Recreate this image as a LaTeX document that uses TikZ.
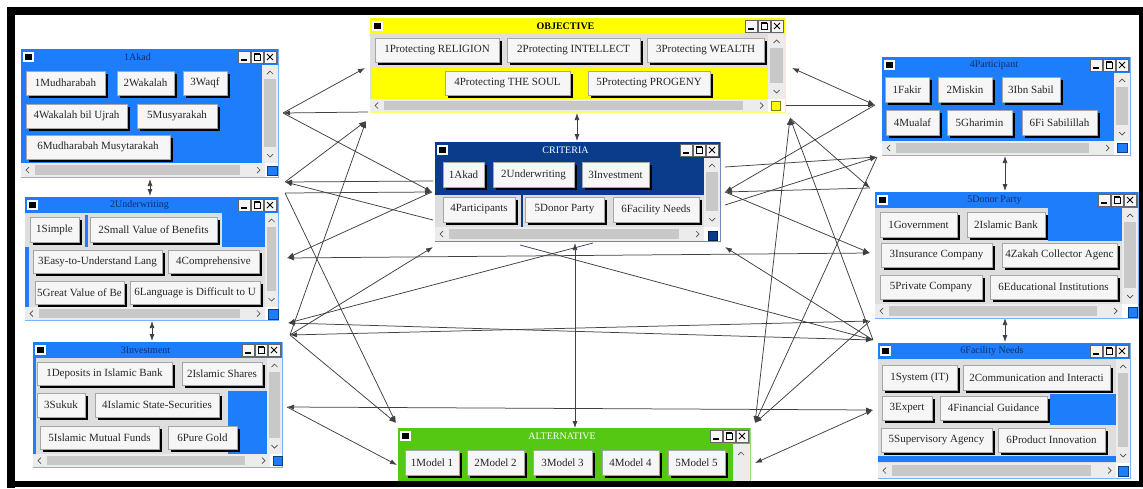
\documentclass[tikz,border=0pt]{standalone}
\usepackage{fontspec}
\setmainfont{Liberation Serif}
\usetikzlibrary{arrows.meta}
\definecolor{wblue}{RGB}{30,125,250}
\definecolor{navy}{RGB}{15,45,110}
\definecolor{cblue}{RGB}{10,60,140}
\definecolor{wgreen}{RGB}{85,200,20}
\definecolor{wyellow}{RGB}{255,255,0}
\definecolor{trk}{RGB}{236,236,236}
\definecolor{thumbc}{RGB}{200,200,200}
\definecolor{panel}{RGB}{222,222,222}
\definecolor{btnface}{RGB}{246,246,246}
\tikzset{
 link/.style={draw=black!75, line width=0.75pt},
 tip/.style={-{Latex[length=7pt,width=5pt]}},
 tips/.style={{Latex[length=7pt,width=5pt]}-{Latex[length=7pt,width=5pt]}},
 btnbox/.style={fill=btnface, draw=black!35, line width=0.6pt, inner sep=0pt, outer sep=0pt, anchor=north west, font=\fontsize{11}{12}\selectfont, text=black!85},
 ttl/.style={inner sep=0pt, font=\fontsize{10}{11}\selectfont},
 chev/.style={draw=black!70, line width=0.7pt},
}
\newcommand\btn[6]{%
 \fill[black] ({#2+3},{#3+3}) rectangle (#4,#5);
 \node[btnbox, minimum width={#4-#2-3}, minimum height={#5-#3-3}] (#1) at (#2,#3) {#6};
}
\newcommand\winframe[8]{%
 \fill[white] (#2,#3) rectangle (#4,#5);
 \draw[#6!60!white, line width=0.8pt] (#2,#3) rectangle (#4,#5);
 \fill[#6] (#2,#3) rectangle (#4,{#3+16});
 \node[ttl, text=#7] (#1) at ({(#2+#4)/2-12},{#3+8}) {#8};
 \fill[white] ({#2+2},{#3+3}) rectangle ({#2+13},{#3+13});
 \fill[black] ({#2+4},{#3+5}) rectangle ({#2+11},{#3+11});
 \foreach \k in {0,1,2} {\fill[btnface] ({#4-40+\k*13},{#3+2}) rectangle ({#4-28+\k*13},{#3+14});
   \draw[black!60, line width=0.4pt] ({#4-40+\k*13},{#3+2}) rectangle ({#4-28+\k*13},{#3+14});}
 \draw[line width=1.3pt] ({#4-37},{#3+11}) -- ({#4-31},{#3+11});
 \draw[line width=0.7pt] ({#4-24},{#3+5}) rectangle ({#4-18},{#3+11});
 \draw[line width=1.1pt] ({#4-24},{#3+5}) -- ({#4-18},{#3+5});
 \draw[line width=1pt] ({#4-11},{#3+5}) -- ({#4-5},{#3+11}) ({#4-11},{#3+11}) -- ({#4-5},{#3+5});
}
\newcommand\vscroll[4]{%
 \fill[trk] (#1,#2) rectangle (#3,#4);
 \fill[thumbc] ({#1+2},{#2+14}) rectangle ({#3-2},{#4-16});
 \draw[chev] ({(#1+#3)/2-3},{#2+9}) -- ({(#1+#3)/2},{#2+6}) -- ({(#1+#3)/2+3},{#2+9});
 \draw[chev] ({(#1+#3)/2-3},{#4-9}) -- ({(#1+#3)/2},{#4-6}) -- ({(#1+#3)/2+3},{#4-9});
}
\newcommand\hscroll[4]{%
 \fill[trk] (#1,#2) rectangle (#3,#4);
 \fill[thumbc] ({#1+14},{#2+2}) rectangle ({#3-25},{#4-2});
 \draw[chev] ({#1+8},{(#2+#4)/2-3}) -- ({#1+5},{(#2+#4)/2}) -- ({#1+8},{(#2+#4)/2+3});
 \draw[chev] ({#3-8},{(#2+#4)/2-3}) -- ({#3-5},{(#2+#4)/2}) -- ({#3-8},{(#2+#4)/2+3});
}
\newcommand\corner[5]{%
 \fill[#5] (#1,#2) rectangle (#3,#4);
 \draw[#5!50!black, line width=0.4pt] (#1,#2) rectangle (#3,#4);
}
\begin{document}
\begin{tikzpicture}[x=1pt,y=-1pt]
\useasboundingbox (0,0) rectangle (1143,488);
\fill[white] (0,0) rectangle (1143,488);

% ---------- anchors ----------
\coordinate (aR) at (283,113);
\coordinate (auA) at (285,182);
\coordinate (auB) at (285,193);
\coordinate (uR) at (287,258);
\coordinate (uiA) at (288,323);
\coordinate (uiB) at (290,335);
\coordinate (iR) at (287,407);
\coordinate (oL1) at (365,68);
\coordinate (oL2) at (368,112);
\coordinate (oL3) at (366,121);
\coordinate (oR1) at (792,68);
\coordinate (oR2) at (786,105);
\coordinate (oR3) at (790,118);
\coordinate (cL0) at (433,181);
\coordinate (cL1) at (432,192);
\coordinate (cL2) at (433,220);
\coordinate (cL3) at (433,247);
\coordinate (cR1) at (725,167);
\coordinate (cR2) at (725,192);
\coordinate (cR3) at (725,205);
\coordinate (cR4) at (725,247);
\coordinate (cB1) at (520,245);
\coordinate (cB2) at (593,243);
\coordinate (tL1) at (396,423);
\coordinate (tL2) at (397,465);
\coordinate (tR1) at (755,423);
\coordinate (tR2) at (755,463);
\coordinate (pL1) at (875,105);
\coordinate (pL2) at (877,157);
\coordinate (dL1) at (870,188);
\coordinate (dL2) at (870,253);
\coordinate (fL1) at (870,321);
\coordinate (fL2) at (873,340);
\coordinate (fL3) at (873,410);
\coordinate (au1) at (150,179);
\coordinate (au2) at (150,196);
\coordinate (ui1) at (152,321);
\coordinate (ui2) at (152,341);
\coordinate (pd1) at (1005,156);
\coordinate (pd2) at (1005,191);
\coordinate (df1) at (1005,318);
\coordinate (df2) at (1005,342);
\coordinate (oc1) at (577,113);
\coordinate (oc2) at (577,141);
\coordinate (ct1) at (575,243);
\coordinate (ct2) at (575,428);

% ---------- connectors ----------
\draw[link,tip] (aR) -- (oL1);
\draw[link,tip] (oL2) -- (aR);
\draw[link,tip] (aR) -- (cL1);
\draw[link,tip] (auA) -- (oL3);
\draw[link,tip] (cL0) -- (auA);
\draw[link,tip] (auB) -- (cL1);
\draw[link,tip] (cL2) -- (auA);
\draw[link,tip] (auB) -- (tL1);
\draw[link,tip] (cL1) -- (uR);
\draw[link,tips] (uR) -- (dL2);
\draw[link,tip] (uiB) -- (oL3);
\draw[link,tip] (uiB) -- (cL3);
\draw[link,tips] (uiA) -- (fL2);
\draw[link,tips] (uiB) -- (fL1);
\draw[link,tip] (uiB) -- (tL1);
\draw[link,tip] (cB2) -- (uiA);
\draw[link,tips] (iR) -- (fL3);
\draw[link,tip] (iR) -- (tL2);
\draw[link,tips] (pL1) -- (oR1);
\draw[link,tip] (oR2) -- (pL1);
\draw[link,tip] (pL1) -- (cR2);
\draw[link,tip] (cR1) -- (pL2);
\draw[link,tip] (cR3) -- (pL2);
\draw[link,tip] (dL1) -- (cR2);
\draw[link,tip] (cR2) -- (dL2);
\draw[link,tip] (oR3) -- (dL1);
\draw[link,tip] (fL2) -- (oR3);
\draw[link,tip] (fL2) -- (cR4);
\draw[link,tip] (cB1) -- (fL2);
\draw[link,tips] (tR1) -- (oR3);
\draw[link,tip] (pL2) -- (tR1);
\draw[link,tip] (fL1) -- (tR1);
\draw[link,tips] (fL3) -- (tR2);
\draw[link,tips] (au1) -- (au2);
\draw[link,tips] (ui1) -- (ui2);
\draw[link,tips] (pd1) -- (pd2);
\draw[link,tips] (df1) -- (df2);
\draw[link,tips] (oc1) -- (oc2);
\draw[link,tips] (ct1) -- (ct2);

% ---------- 1Akad ----------
\winframe{wA}{21}{49}{278}{177}{wblue}{navy}{1Akad}
\fill[wblue] (21,65) rectangle (262,163);
\vscroll{262}{65}{278}{163}
\hscroll{21}{163}{265}{177}
\corner{267}{166}{277}{175}{wblue}
\btn{a1}{26}{71}{108}{98}{1Mudharabah}
\btn{a2}{117}{71}{177}{98}{2Wakalah}
\btn{a3}{183}{71}{230}{98}{3Waqf}
\btn{a4}{26}{104}{130}{131}{4Wakalah bil Ujrah}
\btn{a5}{137}{104}{220}{131}{5Musyarakah}
\btn{a6}{26}{135}{173}{162}{6Mudharabah Musytarakah}

% ---------- 2Underwriting ----------
\winframe{wU}{25}{197}{278}{320}{wblue}{navy}{2Underwriting}
\fill[panel] (25,213) rectangle (265,307);
\fill[wblue] (222,213) rectangle (265,247);
\fill[wblue] (25,247) rectangle (29,307);
\fill[wblue] (85,215) rectangle (88,247);
\vscroll{265}{213}{278}{307}
\hscroll{25}{307}{265}{320}
\corner{268}{309}{278}{319}{wblue}
\btn{u1}{30}{217}{82}{245}{1Simple}
\btn{u2}{90}{217}{220}{245}{2Small Value of Benefits}
\btn{u3}{33}{250}{165}{276}{3Easy-to-Understand Lang}
\btn{u4}{168}{250}{262}{276}{4Comprehensive}
\btn{u5}{35}{281}{127}{307}{5Great Value of Be}
\btn{u6}{130}{281}{263}{307}{6Language is Difficult to U}

% ---------- 3Investment ----------
\winframe{wI}{33}{342}{282}{467}{wblue}{navy}{3Investment}
\fill[panel] (33,358) rectangle (267,454);
\fill[wblue] (228,391) rectangle (267,454);
\fill[wblue] (33,358) rectangle (36,454);
\vscroll{267}{358}{282}{454}
\hscroll{33}{454}{270}{467}
\corner{273}{456}{282}{465}{wblue}
\btn{i1}{37}{362}{175}{388}{1Deposits in Islamic Bank}
\btn{i2}{182}{362}{265}{388}{2Islamic Shares}
\btn{i3}{37}{393}{88}{420}{3Sukuk}
\btn{i4}{95}{393}{222}{420}{4Islamic State-Securities}
\btn{i5}{40}{426}{162}{452}{5Islamic Mutual Funds}
\btn{i6}{168}{426}{240}{452}{6Pure Gold}

% ---------- OBJECTIVE ----------
\winframe{wO}{370}{18}{785}{112}{wyellow}{black}{\textbf{OBJECTIVE}}
\fill[panel] (370,34) rectangle (768,99);
\fill[wyellow] (372,67) rectangle (768,99);
\vscroll{768}{34}{785}{99}
\hscroll{370}{99}{768}{112}
\corner{771}{101}{780}{110}{wyellow}
\btn{o1}{375}{38}{502}{65}{1Protecting RELIGION}
\btn{o2}{507}{38}{643}{65}{2Protecting INTELLECT}
\btn{o3}{647}{38}{767}{65}{3Protecting WEALTH}
\btn{o4}{445}{71}{573}{98}{4Protecting THE SOUL}
\btn{o5}{588}{71}{713}{98}{5Protecting PROGENY}

% ---------- CRITERIA ----------
\winframe{wC}{435}{142}{720}{241}{cblue}{white}{CRITERIA}
\fill[panel] (435,158) rectangle (704,227);
\fill[cblue] (435,158) rectangle (704,195);
\fill[cblue] (521,195) rectangle (523,227);
\vscroll{704}{158}{720}{227}
\hscroll{435}{227}{704}{241}
\corner{708}{231}{717}{240}{cblue}
\btn{c1}{443}{162}{487}{190}{1Akad}
\btn{c2}{493}{162}{577}{190}{2Underwriting}
\btn{c3}{582}{162}{652}{190}{3Investment}
\btn{c4}{443}{197}{518}{225}{4Participants}
\btn{c5}{525}{197}{607}{225}{5Donor Party}
\btn{c6}{613}{197}{702}{225}{6Facility Needs}

% ---------- ALTERNATIVE ----------
\winframe{wT}{398}{428}{750}{484}{wgreen}{white}{ALTERNATIVE}
\fill[wgreen] (398,444) rectangle (733,484);
\fill[trk] (733,444) rectangle (750,484);
\draw[chev] (738,455) -- (741,452) -- (744,455);
\btn{t1}{405}{450}{462}{478}{1Model 1}
\btn{t2}{467}{450}{527}{478}{2Model 2}
\btn{t3}{533}{450}{595}{478}{3Model 3}
\btn{t4}{602}{450}{662}{478}{4Model 4}
\btn{t5}{668}{450}{728}{478}{5Model 5}

% ---------- 4Participant ----------
\winframe{wP}{882}{57}{1130}{155}{wblue}{navy}{4Participant}
\fill[wblue] (882,73) rectangle (1114,141);
\vscroll{1114}{73}{1130}{141}
\hscroll{882}{141}{1114}{155}
\corner{1117}{143}{1127}{152}{wblue}
\btn{p1}{885}{77}{932}{105}{1Fakir}
\btn{p2}{938}{77}{995}{105}{2Miskin}
\btn{p3}{1002}{77}{1063}{105}{3Ibn Sabil}
\btn{p4}{886}{110}{942}{138}{4Mualaf}
\btn{p5}{947}{110}{1015}{138}{5Gharimin}
\btn{p6}{1022}{110}{1100}{138}{6Fi Sabilillah}

% ---------- 5Donor Party ----------
\winframe{wD}{875}{192}{1138}{318}{wblue}{navy}{5Donor Party}
\fill[panel] (875,208) rectangle (1122,304);
\fill[wblue] (1048,208) rectangle (1122,241);
\vscroll{1122}{208}{1138}{304}
\hscroll{875}{304}{1122}{318}
\corner{1128}{307}{1137}{317}{wblue}
\btn{d1}{880}{212}{960}{240}{1Government}
\btn{d2}{967}{212}{1048}{240}{2Islamic Bank}
\btn{d3}{881}{243}{995}{270}{3Insurance Company}
\btn{d4}{1002}{243}{1120}{270}{4Zakah Collector Agenc}
\btn{d5}{880}{275}{985}{302}{5Private Company}
\btn{d6}{990}{275}{1120}{302}{6Educational Institutions}

% ---------- 6Facility Needs ----------
\winframe{wF}{878}{343}{1130}{478}{wblue}{navy}{6Facility Needs}
\fill[panel] (878,359) rectangle (1116,463);
\fill[wblue] (1050,394) rectangle (1116,425);
\fill[wblue] (878,456) rectangle (1116,462);
\vscroll{1116}{359}{1130}{463}
\hscroll{878}{463}{1116}{478}
\corner{1118}{466}{1128}{476}{wblue}
\btn{f1}{882}{365}{960}{393}{1System (IT)}
\btn{f2}{963}{365}{1113}{393}{2Communication and Interacti}
\btn{f3}{882}{396}{935}{423}{3Expert}
\btn{f4}{940}{396}{1050}{423}{4Financial Guidance}
\btn{f5}{881}{428}{995}{455}{5Supervisory Agency}
\btn{f6}{998}{428}{1108}{455}{6Product Innovation}

% ---------- frame ----------
\fill[black] (7,7) rectangle (1143,15);
\fill[black] (7,7) rectangle (15,488);
\fill[black] (7,481) rectangle (1143,487);
\fill[black] (1139,7) rectangle (1143,487);
\end{tikzpicture}
\end{document}
